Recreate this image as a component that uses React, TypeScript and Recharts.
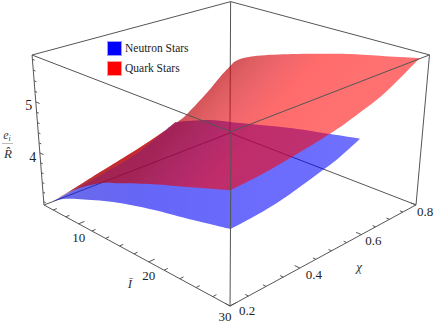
import React from 'react';
import { ScatterChart, Scatter, XAxis, YAxis, Legend } from 'recharts';

// Values: I-bar, chi and R-hat along the four edges of each surface
const neutronFrontI = [6, 7.8, 10.5, 15.4, 20.8, 25, 30];
const neutronFrontR = [3.1, 3.28, 3.46, 3.74, 3.97, 4.11, 4.29];
const neutronRightChi = [0.2, 0.25, 0.3, 0.362, 0.459, 0.511, 0.574];
const neutronRightR = [4.29, 4.31, 4.34, 4.41, 4.57, 4.67, 4.84];
const neutronBackI = [30, 26.7, 22.2, 17.8, 14.1, 11.2, 7.8, 6];
const neutronBackR = [4.84, 4.735, 4.59, 4.41, 4.26, 4.14, 3.93, 3.8];
const neutronLeftChi = [0.574, 0.524, 0.469, 0.427, 0.327, 0.249, 0.2];
const neutronLeftR = [3.8, 3.65, 3.49, 3.4, 3.26, 3.16, 3.1];

const quarkFrontI = [6, 9.5, 13.6, 16.5, 20.9, 25.1, 30];
const quarkFrontR = [3.1, 3.57, 3.98, 4.17, 4.44, 4.67, 4.94];
const quarkRightChi = [0.2, 0.28, 0.365, 0.476, 0.544, 0.649, 0.765];
const quarkRightR = [4.94, 4.98, 5.05, 5.17, 5.28, 5.5, 5.89];
const quarkBackI = [30, 26.2, 22.2, 19, 14.7, 10, 7.1, 6];
const quarkBackR = [5.89, 5.75, 5.61, 5.47, 5.27, 5.02, 4.8, 4.62];
const quarkLeftChi = [0.765, 0.728, 0.682, 0.614, 0.58, 0.491, 0.407, 0.328, 0.278, 0.2];
const quarkLeftR = [4.62, 4.45, 4.2, 3.89, 3.79, 3.6, 3.45, 3.32, 3.23, 3.1];

const iTicks = [6, 8, 10, 12, 14, 16, 18, 20, 22, 24, 26, 28, 30];
const chiTicks = [0.2, 0.25, 0.3, 0.35, 0.4, 0.45, 0.5, 0.55, 0.6, 0.65, 0.7, 0.75, 0.8];
const rTicks = [3, 3.2, 3.4, 3.6, 3.8, 4, 4.2, 4.4, 4.6, 4.8, 5, 5.2, 5.4, 5.6, 5.8];
const iLabels = [10, 20, 30];
const chiLabels = [0.2, 0.4, 0.6, 0.8];
const rLabels = [4, 5];
const seriesNames = ['Neutron Stars', 'Quark Stars'];

const I_MIN = 4.5, I_MAX = 30;
const CHI_MIN = 0.2, CHI_MAX = 0.8;
const R_MIN = 2.93, R_MAX = 5.88;
const CHI_NEUTRON = 0.574, CHI_QUARK = 0.765;

const WIDTH = 436, HEIGHT = 325;
const SERIF = '"Liberation Serif", serif';

// perspective camera fitted to the eight corners of the box
function project(I: number, chi: number, R: number) {
  const u = (I - I_MIN) / (I_MAX - I_MIN);
  const v = (chi - CHI_MIN) / (CHI_MAX - CHI_MIN);
  const w = (R - R_MIN) / (R_MAX - R_MIN);
  const d = 1 - 0.168 * u + 0.168 * v - 0.064 * w;
  return {
    x: (44 + 147.4 * u + 224.6 * v - 14 * w) / d,
    y: (205 + 49.6 * u - 49.7 * v - 153.5 * w) / d,
  };
}

const zip = (is: number[], chis: number[], rs: number[]) => is.map((_, k) => project(is[k], chis[k], rs[k]));
const same = (n: number, value: number) => Array(n).fill(value);

function outline(
  frontI: number[], frontR: number[], rightChi: number[], rightR: number[],
  backI: number[], backR: number[], leftChi: number[], leftR: number[], chiEnd: number,
) {
  return [
    zip(frontI, same(frontI.length, CHI_MIN), frontR),
    zip(same(rightChi.length, I_MAX), rightChi, rightR),
    zip(backI, same(backI.length, chiEnd), backR),
    zip(same(leftChi.length, 6), leftChi, leftR),
  ];
}

const neutronEdges = outline(neutronFrontI, neutronFrontR, neutronRightChi, neutronRightR, neutronBackI, neutronBackR, neutronLeftChi, neutronLeftR, CHI_NEUTRON);
const quarkEdges = outline(quarkFrontI, quarkFrontR, quarkRightChi, quarkRightR, quarkBackI, quarkBackR, quarkLeftChi, quarkLeftR, CHI_QUARK);

// the thin strip where the quark surface shows past the edge of the neutron one
const stripEdges = [quarkEdges[3].slice(4), [...neutronEdges[3]].reverse()];

type Pt = { x: number; y: number };

// smooth one edge, corners between edges stay sharp
function edgePath(pts: Pt[]) {
  let d = '';
  for (let i = 0; i < pts.length - 1; i++) {
    const p0 = pts[Math.max(i - 1, 0)];
    const p1 = pts[i];
    const p2 = pts[i + 1];
    const p3 = pts[Math.min(i + 2, pts.length - 1)];
    d += `C${p1.x + (p2.x - p0.x) / 6},${p1.y + (p2.y - p0.y) / 6} ${p2.x - (p3.x - p1.x) / 6},${p2.y - (p3.y - p1.y) / 6} ${p2.x},${p2.y}`;
  }
  return d;
}

const surfaceLine = (edges: Pt[][], fill: string) => (props: any) => {
  const pts: Pt[] = props.points;
  let start = 0;
  let d = `M${pts[0].x},${pts[0].y}`;
  edges.forEach((edge) => {
    d += edgePath(pts.slice(start, start + edge.length));
    start += edge.length;
  });
  return <path key="surface" d={d + 'Z'} fill={fill} stroke="none" />;
};

// consecutive pairs of points become separate strokes
const segmentLine = (stroke: string, width: number) => (props: any) => {
  const pts: Pt[] = props.points;
  let d = '';
  for (let i = 0; i + 1 < pts.length; i += 2) d += `M${pts[i].x},${pts[i].y}L${pts[i + 1].x},${pts[i + 1].y}`;
  return <path key="segments" d={d} stroke={stroke} strokeWidth={width} fill="none" />;
};

const c = (i: number, x: number, r: number) => project(i, x, r);
const backEdges = [
  c(I_MIN, CHI_MAX, R_MIN), c(I_MIN, CHI_MIN, R_MIN),
  c(I_MIN, CHI_MAX, R_MIN), c(I_MAX, CHI_MAX, R_MIN),
  c(I_MIN, CHI_MAX, R_MIN), c(I_MIN, CHI_MAX, R_MAX),
];
const frontEdges = [
  c(I_MIN, CHI_MIN, R_MIN), c(I_MAX, CHI_MIN, R_MIN),
  c(I_MAX, CHI_MIN, R_MIN), c(I_MAX, CHI_MAX, R_MIN),
  c(I_MIN, CHI_MIN, R_MIN), c(I_MIN, CHI_MIN, R_MAX),
  c(I_MAX, CHI_MAX, R_MIN), c(I_MAX, CHI_MAX, R_MAX),
  c(I_MAX, CHI_MIN, R_MIN), c(I_MAX, CHI_MIN, R_MAX),
  c(I_MIN, CHI_MIN, R_MAX), c(I_MAX, CHI_MIN, R_MAX),
  c(I_MAX, CHI_MIN, R_MAX), c(I_MAX, CHI_MAX, R_MAX),
  c(I_MAX, CHI_MAX, R_MAX), c(I_MIN, CHI_MAX, R_MAX),
  c(I_MIN, CHI_MAX, R_MAX), c(I_MIN, CHI_MIN, R_MAX),
];

const tickMarks = [
  ...iTicks.flatMap((t) => [c(t, CHI_MIN, R_MIN), c(t, CHI_MIN + (iLabels.includes(t) ? 0.016 : 0.01), R_MIN)]),
  ...chiTicks.flatMap((t) => [c(I_MAX, t, R_MIN), c(I_MAX - (chiLabels.includes(t) ? 0.6 : 0.35), t, R_MIN)]),
  ...rTicks.flatMap((t) => [c(I_MIN, CHI_MIN, t), c(I_MIN + (rLabels.includes(t) ? 0.6 : 0.35), CHI_MIN, t)]),
];

const numberLabel = (dx: number[], dy: number[], size: number, digits: number) => (props: any) => {
  const k = props.index ?? 0;
  return (
    <text x={props.cx + dx[k]} y={props.cy + dy[k]} textAnchor="middle" fontFamily={SERIF} fontSize={size} fill="#222">
      {props.payload.label.toFixed(digits)}
    </text>
  );
};

const noDot = () => <g />;

function StarLegend({ payload }: any) {
  const entries = (payload || []).filter((entry: any) => seriesNames.includes(entry.value));
  return (
    <div style={{ fontFamily: SERIF, fontSize: 11.5, color: '#222' }}>
      {entries.map((entry: any) => (
        <div key={entry.value} style={{ display: 'flex', alignItems: 'center', height: 20 }}>
          <span style={{ width: 13, height: 13, background: entry.color, border: `1px solid ${entry.color === '#0000ff' ? '#9a9aff' : '#ff9a9a'}`, marginRight: 3 }} />
          {entry.value}
        </div>
      ))}
    </div>
  );
}

export default function App() {
  return (
    <div style={{ position: 'absolute', left: 0, top: 0, width: WIDTH, height: HEIGHT }}>
      <ScatterChart width={WIDTH} height={HEIGHT} margin={{ top: 0, right: 0, bottom: 0, left: 0 }}>
        <defs>
          <linearGradient id="neutronFill" gradientUnits="userSpaceOnUse" x1="50" y1="0" x2="360" y2="0">
            <stop offset="0" stopColor="rgb(30,30,220)" stopOpacity={0.66} />
            <stop offset="0.35" stopColor="rgb(0,0,245)" stopOpacity={0.6} />
            <stop offset="1" stopColor="rgb(0,0,255)" stopOpacity={0.56} />
          </linearGradient>
          {/* tilted so the shading falls off away from the upper left of the surface */}
          <linearGradient id="quarkFill" gradientUnits="userSpaceOnUse" x1="190" y1="60" x2="294" y2="151">
            <stop offset="0" stopColor="rgb(180,15,25)" stopOpacity={0.74} />
            <stop offset="0.23" stopColor="rgb(190,5,15)" stopOpacity={0.69} />
            <stop offset="0.35" stopColor="rgb(205,5,10)" stopOpacity={0.64} />
            <stop offset="0.5" stopColor="rgb(228,0,10)" stopOpacity={0.6} />
            <stop offset="0.7" stopColor="rgb(255,0,0)" stopOpacity={0.58} />
            <stop offset="1" stopColor="rgb(255,0,0)" stopOpacity={0.56} />
          </linearGradient>
          <linearGradient id="stripFill" gradientUnits="userSpaceOnUse" x1="50" y1="0" x2="180" y2="0">
            <stop offset="0" stopColor="rgb(120,70,70)" stopOpacity={0.6} />
            <stop offset="0.35" stopColor="rgb(190,30,30)" stopOpacity={0.7} />
            <stop offset="1" stopColor="rgb(205,25,30)" stopOpacity={0.8} />
          </linearGradient>
        </defs>
        <XAxis type="number" dataKey="x" domain={[0, WIDTH]} hide />
        <YAxis type="number" dataKey="y" domain={[0, HEIGHT]} reversed hide />
        <Legend
          layout="horizontal"
          verticalAlign="middle"
          align="center"
          wrapperStyle={{ left: 107, top: 38, width: 110, bottom: 'auto', right: 'auto' }}
          content={<StarLegend />}
        />

        <Scatter legendType="none" data={backEdges} shape={noDot} line={segmentLine('#555', 1)} isAnimationActive={false} />
        <Scatter
          name={seriesNames[0]}
          fill="#0000ff"
          data={neutronEdges.flat()}
          shape={noDot}
          line={surfaceLine(neutronEdges, 'url(#neutronFill)')}
          isAnimationActive={false}
        />
        <Scatter
          name={seriesNames[1]}
          fill="#ff0000"
          data={quarkEdges.flat()}
          shape={noDot}
          line={surfaceLine(quarkEdges, 'url(#quarkFill)')}
          isAnimationActive={false}
        />
        <Scatter legendType="none" data={stripEdges.flat()} shape={noDot} line={surfaceLine(stripEdges, 'url(#stripFill)')} isAnimationActive={false} />
        <Scatter legendType="none" data={frontEdges} shape={noDot} line={segmentLine('#555', 1)} isAnimationActive={false} />
        <Scatter legendType="none" data={tickMarks} shape={noDot} line={segmentLine('#555', 1)} isAnimationActive={false} />

        <Scatter
          legendType="none"
          data={iLabels.map((t) => ({ ...c(t, CHI_MIN, R_MIN), label: t }))}
          shape={numberLabel([0, 0, -5], [18, 18, 15], 13, 0)}
          isAnimationActive={false}
        />
        <Scatter
          legendType="none"
          data={chiLabels.map((t) => ({ ...c(I_MAX, t, R_MIN), label: t }))}
          shape={numberLabel([17, 14, 12, 9], [9, 11, 10, 11], 13, 1)}
          isAnimationActive={false}
        />
        <Scatter
          legendType="none"
          data={rLabels.map((t) => ({ ...c(I_MIN, CHI_MIN, t), label: t }))}
          shape={numberLabel([-7, -7], [9, 8], 14, 0)}
          isAnimationActive={false}
        />

        <text x={130} y={288} textAnchor="middle" fontFamily={SERIF} fontStyle="italic" fontSize={13} fill="#333">Ī</text>
        <text x={359} y={271} textAnchor="middle" fontFamily={SERIF} fontStyle="italic" fontSize={13} fill="#333">χ</text>
        <text x={7} y={139} textAnchor="middle" fontFamily={SERIF} fontStyle="italic" fontSize={12} fill="#444">
          e<tspan fontSize={8} dy={2}>i</tspan>
        </text>
        <line x1={2} x2={13} y1={143.5} y2={143.5} stroke="#bbb" strokeWidth={1} />
        <text x={8} y={158} textAnchor="middle" fontFamily={SERIF} fontStyle="italic" fontSize={13} fill="#333">R̂</text>
      </ScatterChart>
    </div>
  );
}
